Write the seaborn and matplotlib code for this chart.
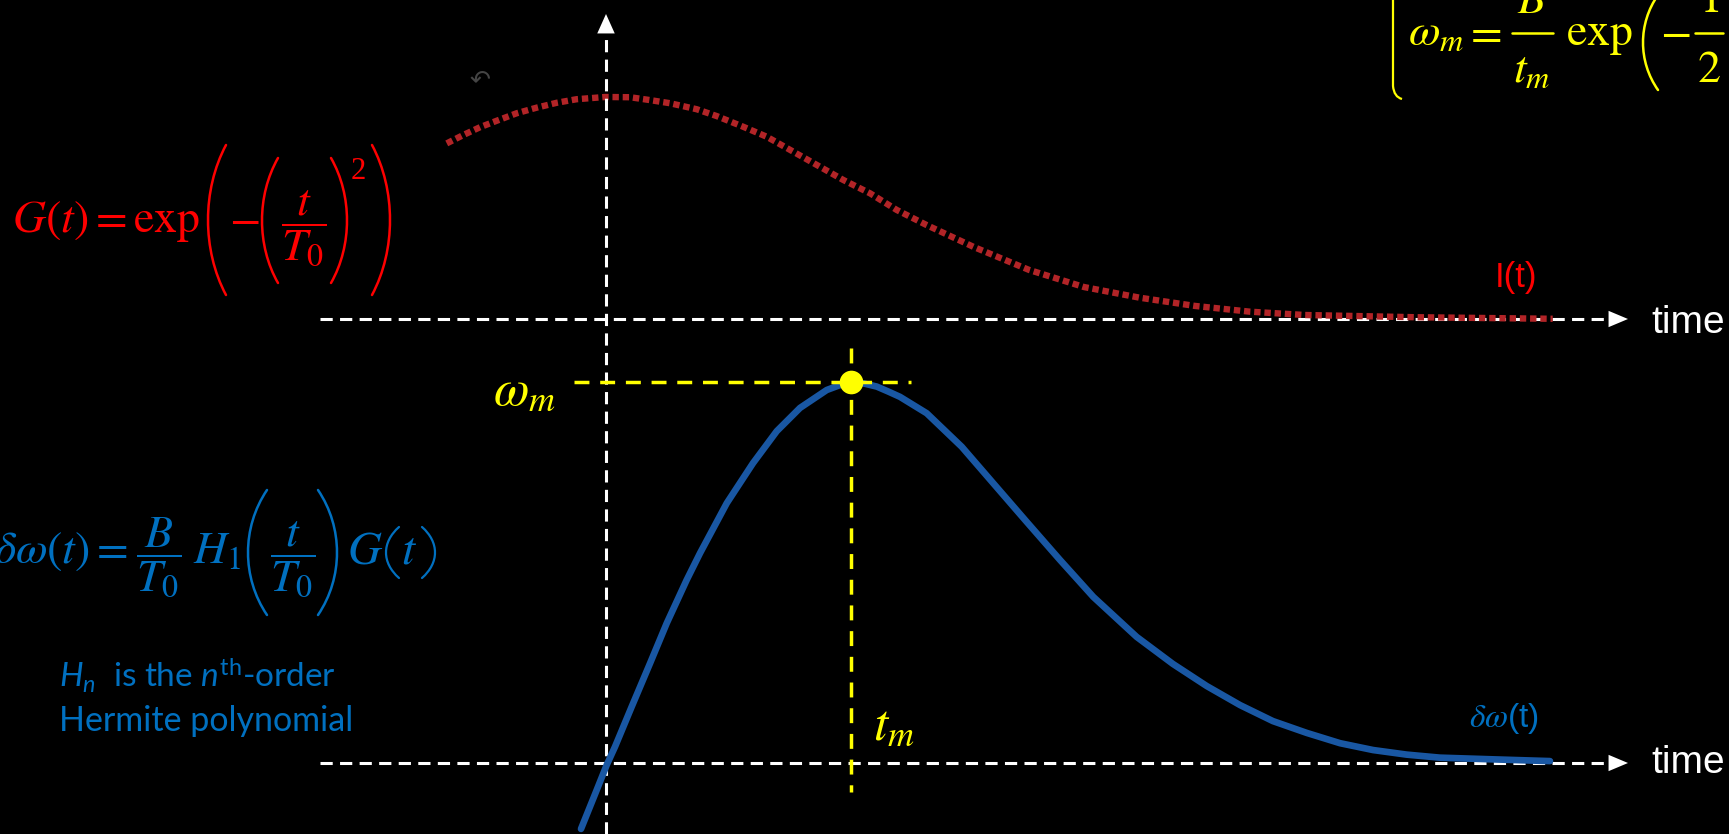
import numpy as np
import matplotlib.pyplot as plt
import seaborn as sns
from matplotlib.path import Path
from matplotlib.patches import PathPatch
from matplotlib.lines import Line2D

# ---- data (t in units of t_m, values normalised to peak) ----
gauss_t = [-0.650, -0.582, -0.514, -0.446, -0.364, -0.283, -0.201, -0.120, -0.004,
           0.098, 0.180, 0.261, 0.370, 0.452, 0.560, 0.656, 0.764, 0.873, 0.969,
           1.078, 1.187, 1.309, 1.502, 1.727, 1.951, 2.178, 2.403, 2.628, 2.853,
           3.302, 3.864]
gauss_v = [0.791, 0.829, 0.864, 0.893, 0.927, 0.952, 0.974, 0.990, 1.000,
           0.999, 0.986, 0.972, 0.945, 0.914, 0.866, 0.821, 0.754, 0.686, 0.626,
           0.566, 0.491, 0.423, 0.324, 0.221, 0.144, 0.096, 0.059, 0.033, 0.018,
           0.008, 0.001]

shift_t = [-0.102, -0.038, 0.003, 0.037, 0.105, 0.180, 0.248, 0.329, 0.384, 0.493,
           0.600, 0.697, 0.792, 0.901, 0.951, 1.003, 1.053, 1.105, 1.152, 1.200,
           1.309, 1.452, 1.581, 1.717, 1.853, 1.989, 2.166, 2.314, 2.452, 2.588,
           2.722, 2.860, 2.996, 3.131, 3.268, 3.404, 3.649, 3.853]
shift_v = [-0.173, -0.071, -0.005, 0.043, 0.148, 0.262, 0.367, 0.480, 0.551, 0.682,
           0.787, 0.871, 0.932, 0.979, 0.991, 1.000, 0.996, 0.988, 0.975, 0.961,
           0.918, 0.830, 0.734, 0.633, 0.533, 0.436, 0.331, 0.260, 0.202, 0.152,
           0.110, 0.079, 0.052, 0.034, 0.022, 0.014, 0.009, 0.005]

t_m = 1.0
omega_m = 1.0

RED = "#FF0000"
DARKRED = "#B22427"
BLUE_TXT = "#0070C0"
BLUE_LINE = "#1957A3"
YELLOW = "#FFFF00"

sns.set_theme(style="dark")
plt.rcParams["font.family"] = ["Liberation Sans", "DejaVu Sans"]
plt.rcParams["mathtext.fontset"] = "custom"
plt.rcParams["mathtext.rm"] = "Lato"
plt.rcParams["mathtext.it"] = "Lato:italic"

W, H = 1729, 834
X0, TX = 606, 245.0          # pixel of t=0, pixels per t unit
B0, BS = 763, 381.0          # bottom baseline pixel, pixels per unit
T0P, TS = 319, 222.0         # top baseline pixel, pixels per unit


def tx(px):
    return (px - X0) / TX


def fx(px):
    return px / W


def fy(py):
    return 1 - py / H


def math(x, y, s, color, size, ha="left"):
    fig.text(fx(x), fy(y), s, color=color, fontsize=size, ha=ha,
             va="baseline", math_fontfamily="stix")


def paren(x0, x1, y0, y1, side, color, lw=1.8):
    # thin stretched parenthesis between pixel extents
    h = y1 - y0
    xe, xm = (x1, x0) if side == "left" else (x0, x1)
    xc = (4 * xm - xe) / 3
    pts = [(xe, y0), (xc, y0 + 0.3 * h), (xc, y1 - 0.3 * h), (xe, y1)]
    p = Path([(fx(a), fy(b)) for a, b in pts],
             [Path.MOVETO, Path.CURVE4, Path.CURVE4, Path.CURVE4])
    fig.add_artist(PathPatch(p, transform=fig.transFigure, fill=False,
                             edgecolor=color, lw=lw, capstyle="round"))


def bar(x0, x1, y, color, lw=1.8):
    fig.add_artist(Line2D([fx(x0), fx(x1)], [fy(y), fy(y)], transform=fig.transFigure,
                          color=color, lw=lw))


fig = plt.figure(figsize=(W / 100, H / 100), dpi=100, facecolor="black")
ax_top = fig.add_axes([0, 0, 1, 1])
ax_bot = fig.add_axes([0, 0, 1, 1])
for ax in (ax_top, ax_bot):
    ax.set_facecolor("none")
    ax.set_xlim(tx(0), tx(W))
    ax.axis("off")
ax_top.set_ylim((T0P - H) / TS, T0P / TS)
ax_bot.set_ylim((B0 - H) / BS, B0 / BS)

white_dash = dict(color="white", lw=2.2, dashes=(4, 2.4))

# time axes
for ax in (ax_top, ax_bot):
    ax.plot([tx(320), tx(1610)], [0, 0], **white_dash)
    ax.annotate("", xy=(tx(1628), 0), xytext=(tx(1606), 0),
                arrowprops=dict(arrowstyle="-|>,head_length=1.0,head_width=0.42",
                                mutation_scale=14, color="white", lw=0,
                                shrinkA=0, shrinkB=0))

# vertical axis
ax_bot.plot([0, 0], [(B0 - H) / BS, (B0 - 30) / BS], **white_dash)
ax_bot.annotate("", xy=(0, (B0 - 14) / BS), xytext=(0, (B0 - 34) / BS),
                arrowprops=dict(arrowstyle="-|>,head_length=1.0,head_width=0.45",
                                mutation_scale=14, color="white", lw=0,
                                shrinkA=0, shrinkB=0))

# curves
sns.lineplot(x=gauss_t, y=gauss_v, ax=ax_top, color=DARKRED, linewidth=4.6,
             linestyle=(0, (1.0, 0.6)), dash_capstyle="butt",
             estimator=None, sort=True, zorder=3)
sns.lineplot(x=shift_t, y=shift_v, ax=ax_bot, color=BLUE_LINE, linewidth=4.8,
             estimator=None, sort=True, zorder=3, solid_joinstyle="round")

# peak guides
ydash = dict(color=YELLOW, lw=2.5, dashes=(4.3, 3.1), zorder=4)
ax_bot.plot([tx(574), tx(911)], [omega_m, omega_m], **ydash)
ax_bot.plot([t_m, t_m], [(B0 - 348) / BS, (B0 - 792) / BS], **ydash)
ax_bot.scatter([t_m], [omega_m], s=290, color=YELLOW, zorder=5, linewidths=0)

# labels
math(556, 405, r"$\omega_m$", YELLOW, 37, ha="right")
math(873, 740, r"$t_m$", YELLOW, 37)
fig.text(fx(1495), fy(287), "I(t)", color=RED, fontsize=25,
         ha="left", va="baseline")
math(1469, 727, r"$\delta\omega$(t)", BLUE_TXT, 24)
for yb in (333, 773):
    fig.text(fx(1651), fy(yb), "time", color="white", fontsize=28,
             ha="left", va="baseline")

# G(t) formula (red)
math(12, 232, r"$G(t)=\exp$", RED, 33)
paren(208, 226, 145, 295, "left", RED)
math(229, 232, r"$-$", RED, 33)
paren(262, 278, 158, 283, "left", RED)
math(304, 232, r"$\dfrac{t}{T_0}$", RED, 33, ha="center")
paren(331, 347, 158, 283, "right", RED)
fig.text(fx(351), fy(157), "2", color=RED, fontsize=22, ha="left", va="top",
         family="Liberation Serif")
paren(372, 390, 145, 295, "right", RED)

# delta-omega formula (blue)
math(128, 563, r"$\delta\omega(t)=$", BLUE_TXT, 33, ha="right")
math(159, 563, r"$\dfrac{B}{T_0}$", BLUE_TXT, 33, ha="center")
math(193, 563, r"$H_1$", BLUE_TXT, 33)
paren(248, 267, 490, 615, "left", BLUE_TXT)
math(293, 563, r"$\dfrac{t}{T_0}$", BLUE_TXT, 33, ha="center")
paren(318, 337, 490, 615, "right", BLUE_TXT)
math(347, 563, r"$G$", BLUE_TXT, 34)
paren(386, 399, 527, 578, "left", BLUE_TXT, lw=1.6)
math(401, 563, r"$t$", BLUE_TXT, 34)
paren(422, 435, 527, 578, "right", BLUE_TXT, lw=1.6)

fig.text(fx(59), fy(688), r"$\mathit{H}_{\mathit{n}}$  is the $\mathit{n}^{\mathrm{th}}$-order",
         color=BLUE_TXT, fontsize=24, ha="left", va="baseline", family="Lato")
fig.text(fx(59), fy(731), "Hermite polynomial", color=BLUE_TXT, fontsize=24.5,
         ha="left", va="baseline", family="Lato")

# omega_m formula (yellow, runs off the slide)
math(1408, 45, r"$\omega_m$", YELLOW, 33)
math(1464, 45, r"$=$", YELLOW, 33)
math(1532, 13, r"$B$", YELLOW, 33, ha="center")
bar(1512, 1553, 33, YELLOW)
math(1532, 82, r"$t_m$", YELLOW, 33, ha="center")
math(1566, 45, r"$\exp$", YELLOW, 33)
paren(1643, 1658, -5, 90, "left", YELLOW)
math(1660, 45, r"$-$", YELLOW, 33)
math(1709, 12, r"$1$", YELLOW, 33, ha="center")
bar(1695, 1723, 33, YELLOW)
math(1709, 82, r"$2$", YELLOW, 33, ha="center")
brace = Path([(fx(1393), fy(-5)), (fx(1393), fy(86)), (fx(1394), fy(97)), (fx(1402), fy(99))],
             [Path.MOVETO, Path.LINETO, Path.CURVE3, Path.CURVE3])
fig.add_artist(PathPatch(brace, transform=fig.transFigure, fill=False,
                         edgecolor=YELLOW, lw=1.6))

# small undo glyph near the top curve
fig.text(fx(480), fy(80), "\u21b6", color="#444444", fontsize=18,
         ha="center", va="center", family="DejaVu Sans")

fig.savefig("out.png", dpi=100, facecolor="black")
